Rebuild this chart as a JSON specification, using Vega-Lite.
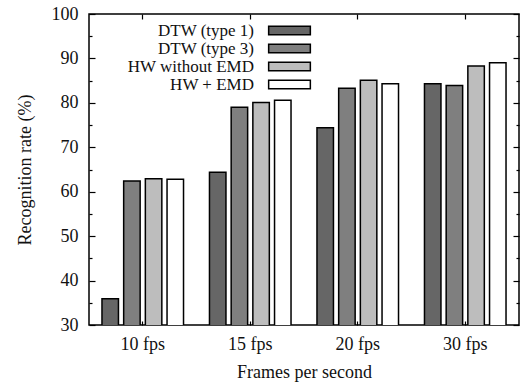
{
  "$schema": "https://vega.github.io/schema/vega-lite/v6.json",
  "width": 430,
  "height": 311,
  "autosize": {"type": "none"},
  "padding": {"left": 89, "top": 14, "right": 1, "bottom": 59},
  "background": "white",
  "config": {
    "font": "Liberation Serif",
    "view": {"stroke": "#000", "strokeWidth": 1.5},
    "axis": {
      "domain": false,
      "grid": false,
      "tickColor": "#000",
      "tickWidth": 1.2,
      "labelFont": "Liberation Serif",
      "labelFontSize": 18,
      "labelColor": "#111",
      "titleFont": "Liberation Serif",
      "titleFontSize": 18,
      "titleFontWeight": "normal",
      "titleColor": "#111"
    }
  },
  "data": {
    "values": [
      {"fps": "10 fps", "method": "DTW (type 1)", "rate": 35.9},
      {"fps": "10 fps", "method": "DTW (type 3)", "rate": 62.4},
      {"fps": "10 fps", "method": "HW without EMD", "rate": 62.9},
      {"fps": "10 fps", "method": "HW + EMD", "rate": 62.8},
      {"fps": "15 fps", "method": "DTW (type 1)", "rate": 64.4},
      {"fps": "15 fps", "method": "DTW (type 3)", "rate": 79.0},
      {"fps": "15 fps", "method": "HW without EMD", "rate": 80.1},
      {"fps": "15 fps", "method": "HW + EMD", "rate": 80.6},
      {"fps": "20 fps", "method": "DTW (type 1)", "rate": 74.4},
      {"fps": "20 fps", "method": "DTW (type 3)", "rate": 83.3},
      {"fps": "20 fps", "method": "HW without EMD", "rate": 85.1},
      {"fps": "20 fps", "method": "HW + EMD", "rate": 84.3},
      {"fps": "30 fps", "method": "DTW (type 1)", "rate": 84.3},
      {"fps": "30 fps", "method": "DTW (type 3)", "rate": 83.9},
      {"fps": "30 fps", "method": "HW without EMD", "rate": 88.3},
      {"fps": "30 fps", "method": "HW + EMD", "rate": 89.0}
    ]
  },
  "layer": [
    {
      "mark": {"type": "bar", "stroke": "#000", "strokeWidth": 1.5, "clip": true},
      "encoding": {
        "x": {
          "field": "fps", "type": "nominal", "sort": null,
          "scale": {"paddingInner": 0.193, "paddingOuter": 0.0965},
          "axis": {"orient": "bottom", "title": "Frames per second", "labelAngle": 0, "tickSize": -4, "labelPadding": 14, "titlePadding": 10}
        },
        "xOffset": {
          "field": "method", "type": "nominal", "sort": null,
          "scale": {"paddingInner": 0.24, "paddingOuter": 0.12}
        },
        "y": {
          "field": "rate", "type": "quantitative",
          "scale": {"domain": [30, 100], "nice": false, "zero": false},
          "axis": {
            "orient": "left",
            "title": "Recognition rate (%)",
            "values": [30, 35, 40, 45, 50, 55, 60, 65, 70, 75, 80, 85, 90, 95, 100],
            "labelExpr": "datum.value % 10 === 0 ? datum.label : ''",
            "tickSize": {"condition": {"test": "datum.value % 10 !== 0", "value": -3}, "value": -6},
            "labelPadding": 17,
            "titlePadding": 17
          }
        },
        "color": {
          "field": "method", "type": "nominal",
          "scale": {
            "domain": ["DTW (type 1)", "DTW (type 3)", "HW without EMD", "HW + EMD"],
            "range": ["#666666", "#7f7f7f", "#bdbdbd", "#ffffff"]
          },
          "legend": {
            "title": null,
            "orient": "none",
            "legendX": 192,
            "legendY": 8,
            "symbolType": "M-4.17,-0.83H4.17V0.83H-4.17Z",
            "symbolSize": 100,
            "symbolStrokeColor": "#000",
            "symbolStrokeWidth": 1.5,
            "symbolOpacity": 1,
            "labelAlign": "right",
            "labelOffset": -44,
            "labelFont": "Liberation Serif",
            "labelFontSize": 17,
            "labelColor": "#111",
            "labelLimit": 0,
            "rowPadding": 0
          }
        }
      }
    },
    {
      "mark": {"type": "bar", "opacity": 0},
      "encoding": {
        "x": {
          "field": "fps", "type": "nominal", "sort": null,
          "axis": {"orient": "top", "title": null, "labels": false, "tickSize": -5}
        },
        "y": {
          "field": "rate", "type": "quantitative",
          "axis": {
            "orient": "right", "title": null, "labels": false,
            "values": [30, 35, 40, 45, 50, 55, 60, 65, 70, 75, 80, 85, 90, 95, 100],
            "tickSize": {"condition": {"test": "datum.value % 10 !== 0", "value": -3}, "value": -6}
          }
        }
      }
    }
  ],
  "resolve": {"axis": {"x": "independent", "y": "independent"}}
}
